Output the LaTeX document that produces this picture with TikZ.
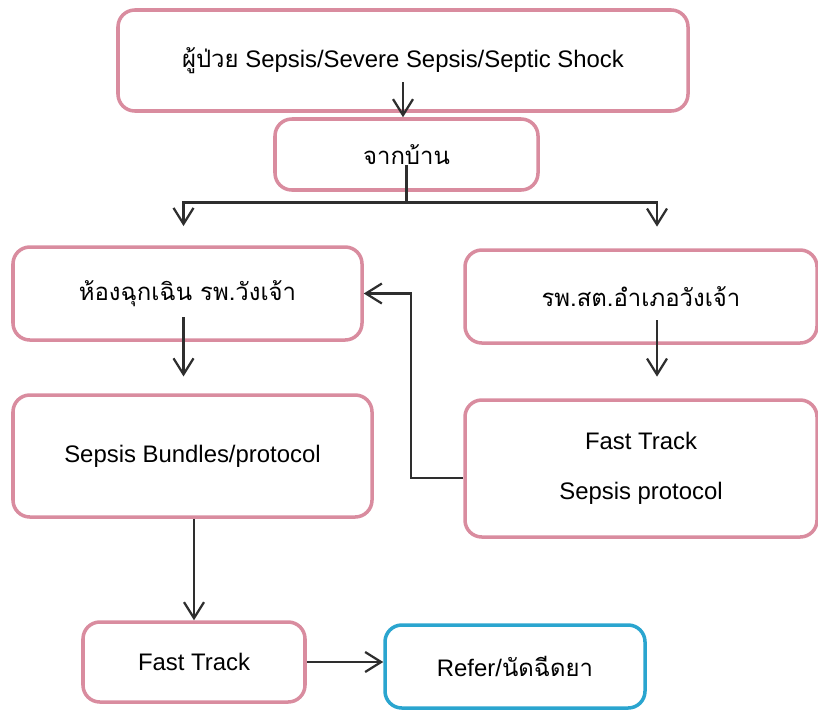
\documentclass[tikz,border=0pt]{standalone}
\usepackage{fontspec}
\usepackage{xcolor}
\usepackage{tikz}
\setmainfont{Liberation Sans}
\newfontfamily\thaifont[Script=Thai]{Loma}
\definecolor{boxpink}{HTML}{D98C9F}
\definecolor{boxblue}{HTML}{2AA5CF}
\definecolor{linegrey}{HTML}{2E2E2E}
\usetikzlibrary{arrows.meta,positioning}

\begin{document}
\begin{tikzpicture}[
  box/.style={draw=boxpink,line width=2.5pt,rounded corners=12pt,inner sep=4pt,
              align=center,font=\fontsize{17}{20}\selectfont},
  arr/.style={-{Straight Barb[length=4mm,width=5mm]},draw=linegrey,line width=1.6pt}]
\useasboundingbox (0,0) rectangle (20.45,-17.775);
\node[box,minimum width=14.25cm,minimum height=2.525cm] (top) at (10.075,-1.5125)
  {{\thaifont ผู้ป่วย} Sepsis/Severe Sepsis/Septic Shock};
\node[box,minimum width=6.575cm,minimum height=1.775cm] (home) at (10.1625,-3.8625)
  {\thaifont จากบ้าน};
\node[box,minimum width=8.725cm,minimum height=2.325cm] (er) at (4.6875,-7.3375)
  {\thaifont ห้องฉุกเฉิน รพ.วังเจ้า};
\node[box,minimum width=8.8cm,minimum height=2.325cm] (rpst) at (16.025,-7.4125)
  {\thaifont รพ.สต.อำเภอวังเจ้า};
\node[box,minimum width=8.975cm,minimum height=3.05cm] (bundle) at (4.8125,-11.4)
  {Sepsis Bundles/protocol};
\node[box,minimum width=8.8cm,minimum height=3.425cm] (ftsp) at (16.025,-11.7125)
  {Fast Track\\[16pt]Sepsis protocol};
\node[box,minimum width=5.55cm,minimum height=2cm] (ft) at (4.85,-16.55)
  {Fast Track};
\node[box,draw=boxblue,minimum width=6.5cm,minimum height=2.075cm] (refer) at (12.875,-16.6625)
  {Refer/{\thaifont นัดฉีดยา}};
\coordinate (topout) at ([yshift=-5.4mm]top.center);
\coordinate (homeout) at ([yshift=-2.6mm]home.center);
\coordinate (split) at ([yshift=-1.2cm]home.center);
\draw[arr] (topout) -- (topout |- home.north);
\draw[arr,shorten >=4.8mm] (homeout) -- (split) -| ([xshift=-1mm]er.north);
\draw[arr,shorten >=5.4mm] (split) -| ([xshift=4mm]rpst.north);
\draw[arr,shorten >=4.2mm] ([xshift=-1mm,yshift=-5.9mm]er.center) -- ([xshift=-1mm]er.south |- bundle.north);
\draw[arr,shorten >=5.4mm] ([xshift=4mm,yshift=-5.9mm]rpst.center) -- ([xshift=4mm]rpst.south |- ftsp.north);
\draw[arr] ([yshift=-2.4mm]ftsp.west) -- ++(-1.3,0) |- (er.east);
\draw[arr] (bundle.south -| ft.north) -- (ft.north);
\draw[arr] (ft.east) -- (ft.east -| refer.west);
\end{tikzpicture}
\end{document}
